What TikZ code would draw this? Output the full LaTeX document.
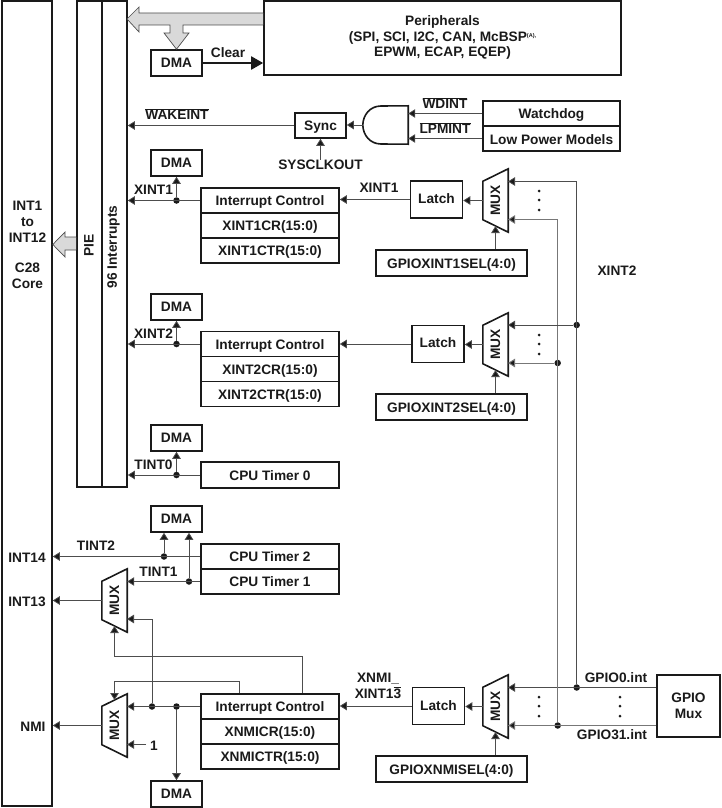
\documentclass[tikz,border=0pt]{standalone}
\usepackage{fontspec}
\setmainfont{Liberation Sans}
\usetikzlibrary{calc,arrows.meta}
\definecolor{inkdark}{HTML}{1A1A1A}
\definecolor{wiregray}{HTML}{4D4D4D}
\definecolor{lastgray}{HTML}{777777}
\definecolor{busgray}{HTML}{D9D9D9}
\newcommand{\barred}[1]{$\overline{\hbox{#1}}$}
% mux: name, position
\newcommand{\muxblock}[2]{
    \node[muxbox] (#1) at (#2) {\rotatebox{90}{MUX}};
    \draw[boxline] (#1.north east) -- (#1.south east)
        -- ($(#1.south west)+(0,-12.5)$) -- ($(#1.north west)+(0,12.5)$) -- cycle;
}
\begin{document}
\begin{tikzpicture}[
    x=1pt, y=-1pt,
    every node/.style={font=\fontsize{13.7}{15.8}\selectfont\bfseries, text=inkdark},
    boxline/.style={draw=inkdark, line width=1.6pt},
    block/.style={boxline, rectangle, inner sep=0pt, align=center, fill=white},
    dmabox/.style={block, minimum width=51pt, minimum height=26pt},
    ctrlbox/.style={block, minimum width=138pt, minimum height=25pt, text height=10.5pt, text depth=0pt},
    selbox/.style={block, minimum width=151pt, minimum height=26pt, text height=11pt, text depth=0pt},
    latchbox/.style={block, minimum width=52pt, minimum height=37pt, text height=10pt, text depth=2.4pt},
    muxbox/.style={inner sep=0pt, minimum width=25pt, minimum height=63pt},
    tag/.style={inner sep=0pt, align=center},
    wire/.style={draw=wiregray, line width=0.8pt},
    wirearrow/.style={wire, -{Triangle[length=7pt,width=8.5pt,fill=inkdark]}},
    lastwire/.style={wirearrow, draw=lastgray, line width=1pt},
    joint/.style={circle, fill=inkdark, minimum size=6.5pt, inner sep=0pt},
    dotmark/.style={circle, fill=inkdark, minimum size=3pt, inner sep=0pt},
    bus/.style={draw=wiregray, line width=0.7pt, fill=busgray}
]
\useasboundingbox (0,0) rectangle (721,808);

% core and interrupt columns
\node[block, minimum width=50pt, minimum height=805pt] (core) at (27,403.5) {};
\node[block, minimum width=25pt, minimum height=486pt] (pie) at (89.5,244) {};
\node[block, minimum width=25pt, minimum height=486pt] (intr) at (114.5,244) {};
\node[tag] (corelabel) at (27.5,245) {INT1\\to\\INT12\\[15pt]C28\\Core};
\node[tag, rotate=90] (pielabel) at (89,245.5) {PIE};
\node[tag, rotate=90] (intrlabel) at (113.5,247) {96 Interrupts};

% peripherals and the gray buses
\node[block, minimum width=357pt, minimum height=74pt] (periph) at (442.5,38) {};
\node[tag] (periphlabel) at (442.5,37.5) {Peripherals\\(SPI, SCI, I2C, CAN, McBSP\raisebox{4pt}{\fontsize{5.5}{6}\selectfont (A),}\\EPWM, ECAP, EQEP)};
\node[dmabox] (dmaperiph) at (176.5,63) {DMA};
\coordinate (bustip) at (127,19);
\draw[bus] (periph.west |- 0,13) -- (139,13) -- (139,7) -- (bustip) -- (139,32) -- (139,25)
    -- (170,25) -- (170,33) -- (164,33) -- (dmaperiph.north) -- (189,33) -- (183,33) -- (183,25) -- (periph.west |- 0,25);
\draw[bus] (pie.west |- 0,237) -- (65,237) -- (65,232) -- (core.east |- 0,244.5) -- (65,257) -- (65,250) -- (pie.west |- 0,250);
\draw[draw=inkdark, line width=2pt, -{Triangle[length=12pt,width=13pt]}] (dmaperiph.east) -- (periph.west |- dmaperiph.east);
\node[tag] (clearlabel) at (228,53) {Clear};

% wake up path
\node[dmabox, minimum height=25pt, text height=10pt, text depth=1pt] (syncbox) at (320.5,125.5) {Sync};
\node[inner sep=0pt, minimum width=45pt, minimum height=38pt] (andgate) at (385.5,125) {};
\draw[boxline] (andgate.north east) -- (381,106) .. controls (370,106) and (363,115) .. (andgate.west)
    .. controls (363,135) and (370,144) .. (381,144) -- (andgate.south east) -- cycle;
\node[block, minimum width=137pt, minimum height=25pt, text height=10pt, text depth=1pt] (watchdog) at (551.5,113.5) {Watchdog};
\node[block, minimum width=137pt, minimum height=25pt, text height=12.5pt, text depth=0pt] (lowpower) at (551.5,138.5) {Low Power Models};
\node[tag] (sysclk) at (320.5,165) {SYSCLKOUT};
\node[tag] (wakelabel) at (177,114) {\barred{WAKEINT}};
\node[tag] (wdlabel) at (445,103) {\barred{WDINT}};
\node[tag] (lpmlabel) at (445,128) {\barred{LPMINT}};
\draw[wirearrow] (syncbox.west) -- (intr.east |- syncbox.west);
\draw[wirearrow] (andgate.west) -- (syncbox.east |- andgate.west);
\draw[wirearrow] (sysclk.north) -- (syncbox.south);
\draw[wirearrow] (watchdog.west) -- (andgate.east |- watchdog.west);
\draw[wirearrow] (lowpower.west) -- (andgate.east |- lowpower.west);

% XINT1
\node[dmabox] (dmaone) at (176.5,163) {DMA};
\node[ctrlbox] (ctrlone) at (270,200.5) {Interrupt Control};
\node[ctrlbox] (crone) at (270,225.5) {XINT1CR(15:0)};
\node[ctrlbox] (ctrone) at (270,250.5) {XINT1CTR(15:0)};
\node[latchbox] (latchone) at (436.5,199.5) {Latch};
\muxblock{muxone}{495.5,200.5}
\node[selbox] (selone) at (451.5,263) {GPIOXINT1SEL(4:0)};
\node[joint] (jointone) at (176.5,200.5) {};
\node[tag] (xintonein) at (153.5,190) {XINT1};
\node[tag] (xintoneout) at (379,188) {XINT1};
\draw[wirearrow] (ctrlone.west) -- (intr.east |- ctrlone.west);
\draw[wirearrow] (jointone) -- (dmaone.south);
\draw[wirearrow] (latchone.west) -- (ctrlone.east |- latchone.west);
\draw[wirearrow] (muxone.west) -- (latchone.east |- muxone.west);
\draw[wirearrow] (selone.north -| muxone) -- (495.5,226);
\node[dotmark] (dotoa) at (539,191) {};
\node[dotmark] (dotob) at (539,200) {};
\node[dotmark] (dotoc) at (539,210) {};

% XINT2
\node[dmabox] (dmatwo) at (176.5,307) {DMA};
\node[ctrlbox] (ctrltwo) at (270,344) {Interrupt Control};
\node[ctrlbox] (crtwo) at (270,369) {XINT2CR(15:0)};
\node[ctrlbox] (ctrtwo) at (270,394) {XINT2CTR(15:0)};
\node[latchbox, text depth=4pt] (latchtwo) at (438,344) {Latch};
\muxblock{muxtwo}{495.5,344.5}
\node[selbox] (seltwo) at (451.5,407) {GPIOXINT2SEL(4:0)};
\node[joint] (jointtwo) at (176.5,344) {};
\node[tag] (xinttwoin) at (153.5,334) {XINT2};
\draw[wirearrow] (ctrltwo.west) -- (intr.east |- ctrltwo.west);
\draw[wirearrow] (jointtwo) -- (dmatwo.south);
\draw[wirearrow] (latchtwo.west) -- (ctrltwo.east |- latchtwo.west);
\draw[wirearrow] (muxtwo.west) -- (latchtwo.east |- muxtwo.west);
\draw[wirearrow] (seltwo.north -| muxtwo) -- (495.5,370);
\node[dotmark] (dotta) at (539,335) {};
\node[dotmark] (dottb) at (539,344) {};
\node[dotmark] (dottc) at (539,354) {};

% timers
\node[dmabox] (dmatimer) at (176.5,438) {DMA};
\node[ctrlbox, minimum height=26pt] (timerzero) at (270,475) {CPU Timer 0};
\node[joint] (jointzero) at (176.5,475) {};
\node[tag] (tintzero) at (153.5,465) {TINT0};
\draw[wirearrow] (timerzero.west) -- (intr.east |- timerzero.west);
\draw[wirearrow] (jointzero) -- (dmatimer.south);
\node[dmabox] (dmatimers) at (176.5,519) {DMA};
\node[ctrlbox] (timertwo) at (270,556.5) {CPU Timer 2};
\node[ctrlbox] (timerone) at (270,581.5) {CPU Timer 1};
\muxblock{muxint}{114.5,600.5}
\node[joint] (jointtinttwo) at (164,556.5) {};
\node[joint] (jointtintone) at (189,581.5) {};
\node[tag] (tinttwo) at (96,546) {TINT2};
\node[tag] (tintone) at (158.5,572) {TINT1};
\node[tag] (intforteen) at (27,558) {INT14};
\node[tag] (intthirteen) at (27,602) {INT13};
\draw[wirearrow] (timertwo.west) -- (core.east |- timertwo.west);
\draw[wirearrow] (timerone.west) -- (muxint.east |- timerone.west);
\draw[wirearrow] (jointtinttwo) -- (jointtinttwo |- dmatimers.south);
\draw[wirearrow] (jointtintone) -- (jointtintone |- dmatimers.south);
\draw[wirearrow] (muxint.west) -- (core.east |- muxint.west);

% XNMI
\node[ctrlbox] (ctrlnmi) at (270,706.5) {Interrupt Control};
\node[ctrlbox] (crnmi) at (270,731.5) {XNMICR(15:0)};
\node[ctrlbox] (ctrnmi) at (270,756.5) {XNMICTR(15:0)};
\node[dmabox] (dmanmi) at (176.5,794) {DMA};
\muxblock{muxnmi}{114.5,725.5}
\node[latchbox, text depth=0.5pt] (latchnmi) at (438.5,706) {Latch};
\muxblock{muxgpio}{495.5,706.5}
\node[selbox] (selnmi) at (451.5,769) {GPIOXNMISEL(4:0)};
\node[block, minimum width=63pt, minimum height=62pt] (gpiomux) at (688.5,706) {GPIO\\Mux};
\node[joint] (jointa) at (152,706.5) {};
\node[joint] (jointb) at (176.5,706.5) {};
\node[tag] (nmilabel) at (33,727) {NMI};
\node[tag] (onelabel) at (154,746) {1};
\node[tag] (xnmilabel) at (378,686) {XNMI\_\\XINT1\barred{3}};
\draw[wirearrow] (ctrlnmi.west) -- (muxnmi.east |- ctrlnmi.west);
\draw[wirearrow] (muxnmi.west) -- (core.east |- muxnmi.west);
\draw[wirearrow] (jointb) -- (dmanmi.north);
\draw[wirearrow] (jointa) -- (152,619) -- (127,619);
\coordinate (onefree) at (146,744.5);
\draw[wirearrow] (onefree) -- (127,744.5);
\draw[wirearrow] (ctrlnmi.north -| 302,0) |- (114.5,656) -- (114.5,626);
\draw[wirearrow] (ctrlnmi.north -| 239.5,0) |- (114.5,681) -- (114.5,700);
\draw[wirearrow] (latchnmi.west) -- (ctrlnmi.east |- latchnmi.west);
\draw[wirearrow] (muxgpio.west) -- (latchnmi.east |- muxgpio.west);
\draw[wirearrow] (selnmi.north -| muxgpio) -- (495.5,732);
\node[dotmark] (dotna) at (539,697) {};
\node[dotmark] (dotnb) at (539,706) {};
\node[dotmark] (dotnc) at (539,716) {};
\node[dotmark] (dotnd) at (620,697) {};
\node[dotmark] (dotne) at (620,706) {};
\node[dotmark] (dotnf) at (620,716) {};

% GPIO lines going up
\coordinate (gpiozero) at (gpiomux.west |- 0,687.5);
\coordinate (gpiolast) at (gpiomux.west |- 0,725.5);
\node[joint] (jointgz) at (576.7,687.5) {};
\node[joint] (jointgl) at (557.7,725.5) {};
\node[joint] (jointxa) at (576.7,325) {};
\node[joint] (jointxb) at (557.7,363) {};
\node[tag] (gpiozerolabel) at (616,678) {GPIO0.int};
\node[tag] (gpiolastlabel) at (612,735) {GPIO31.int};
\node[tag] (xinttwolabel) at (617,271) {XINT2};
\draw[wirearrow] (gpiozero) -- (508,687.5);
\draw[lastwire] (gpiolast) -- (508,725.5);
\draw[wirearrow] (jointgz) -- (576.7,181.5) -- (508,181.5);
\draw[lastwire] (jointgl) -- (557.7,219.5) -- (508,219.5);
\draw[wirearrow] (jointxa) -- (508,325);
\draw[lastwire] (jointxb) -- (508,363);
\end{tikzpicture}
\end{document}
